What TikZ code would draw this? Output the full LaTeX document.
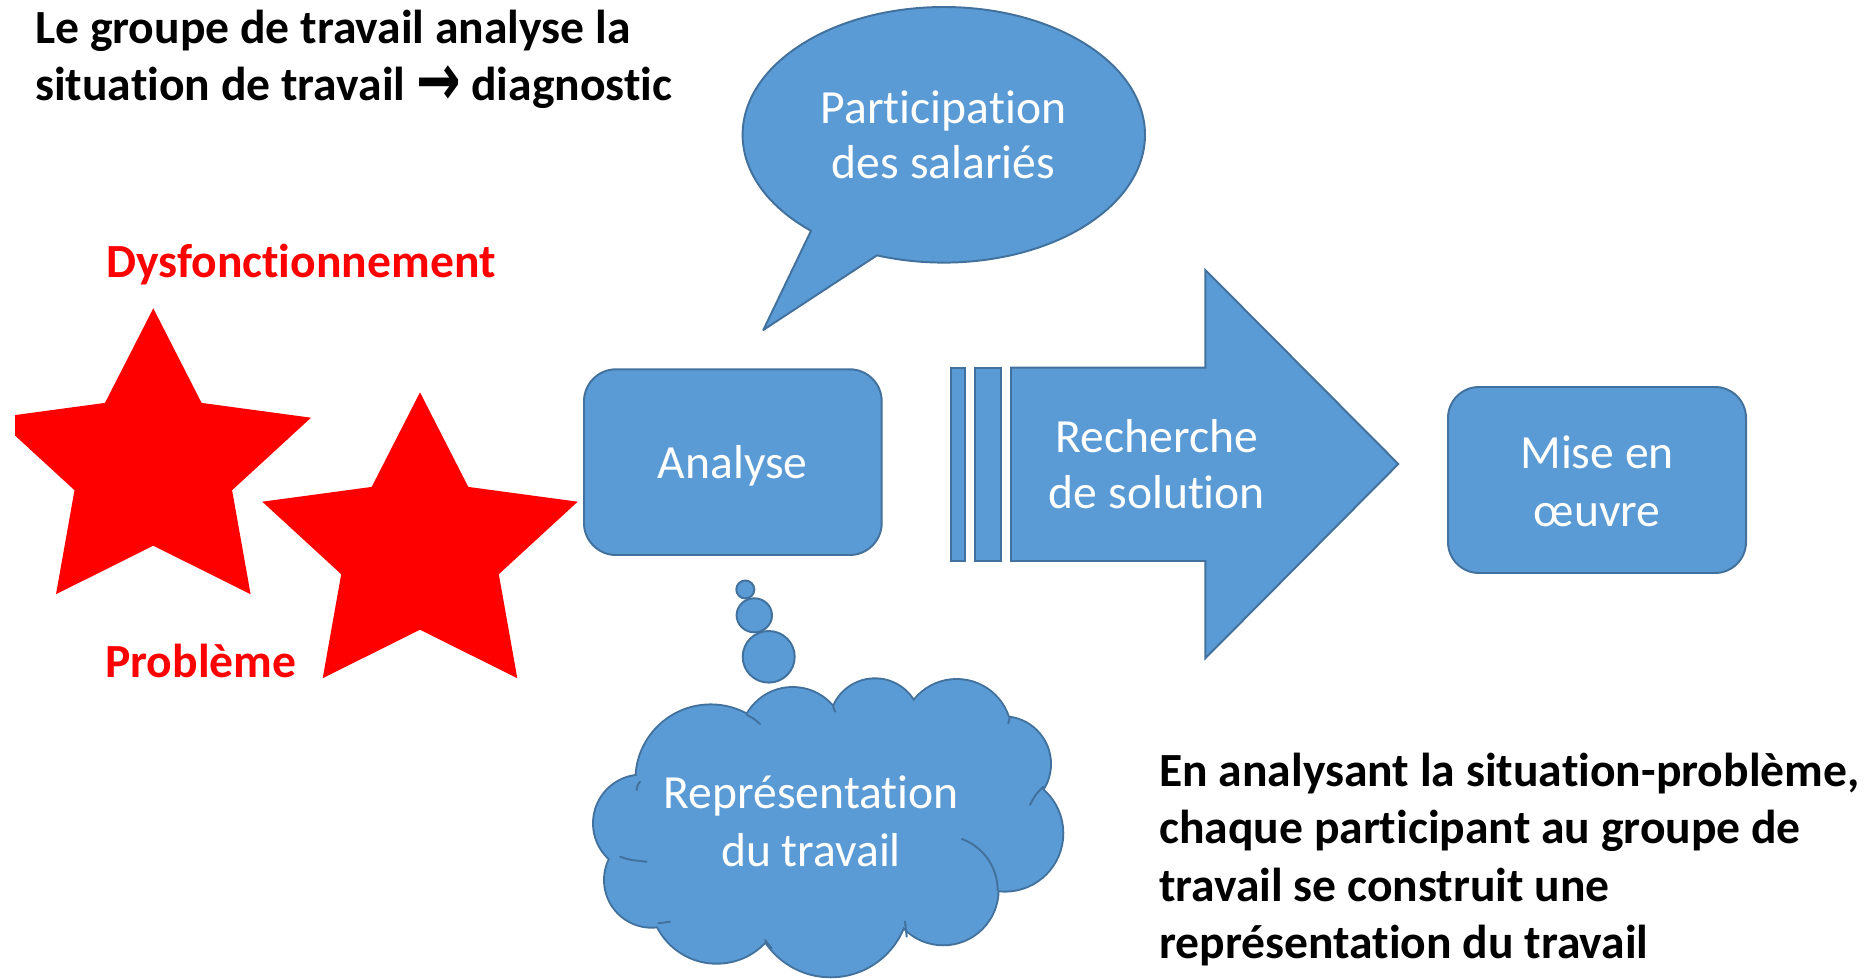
\documentclass[tikz,border=0pt]{standalone}
\usepackage{graphicx}
\usepackage{fontspec}
\setmainfont{Carlito}[Ligatures={TeX,NoCommon}]
\newfontfamily\arrowfont{DejaVu Sans}
\definecolor{fillblue}{HTML}{5B9BD5}
\definecolor{lineblue}{HTML}{41719C}
\definecolor{starred}{HTML}{FF0000}
\begin{document}
\begin{tikzpicture}[x=1pt,y=-1pt,
  blueshape/.style={fill=fillblue, draw=lineblue, line width=1.95pt, line join=round},
  crease/.style={draw=lineblue, line width=1.95pt, line cap=round},
  lbl/.style={inner sep=0pt, anchor=base, text=white, font=\fontsize{47.6}{56}\selectfont},
  blk/.style={inner sep=0pt, anchor=base west, text=black, font=\fontsize{47.6}{57}\selectfont\bfseries},
  redlbl/.style={inner sep=0pt, anchor=base west, text=starred, font=\fontsize{47.6}{57}\selectfont\bfseries},
  starshape/.style={fill=starred}]
\useasboundingbox (0,0) rectangle (1870,979);

% top-left text
\node[blk] (t1a) at (35,43.3) {Le groupe de travail analyse la};
\node[blk] (t1b) at (35,100.7) {situation de travail \raisebox{-0.1em}{\scalebox{1.12}[1.55]{\arrowfont\bfseries →}} diagnostic};

% speech bubble
\draw[blueshape] (943.8,134.8) ++(131.3:201.2 and 127.8)
  arc[start angle=131.3, end angle=469.4, x radius=201.2, y radius=127.8]
  -- (763.3,330) -- cycle;
\node[lbl] (part1) at (943.5,123.3) {Participation};
\node[lbl] (part2) at (943.5,178.3) {des salariés};

% red labels and stars
\node[redlbl] (dys) at (106,277.3) {Dysfonctionnement};
\begin{scope}
  \clip (15,0) rectangle (1870,979);
  \fill[starshape, shift={(153.3,308.3)}] (0,0) -- (48.3,94.6) -- (157.7,109.4) -- (78.8,181.9) -- (97.3,285.9)
    -- (0,237.4) -- (-97.3,285.9) -- (-78.8,181.9) -- (-157.7,109.4) -- (-48.3,94.6) -- cycle;
\end{scope}
\fill[starshape, shift={(420,392.3)}] (0,0) -- (48.3,94.6) -- (157.7,109.4) -- (78.8,181.9) -- (97.3,285.9)
    -- (0,237.4) -- (-97.3,285.9) -- (-78.8,181.9) -- (-157.7,109.4) -- (-48.3,94.6) -- cycle;
\node[redlbl] (prob) at (105,677) {Problème};

% Analyse box
\draw[blueshape, rounded corners=32pt] (584,369.3) rectangle (881.7,555);
\node[lbl] (ana) at (732.8,478.3) {Analyse};

% striped arrow
\draw[blueshape, line join=miter] (951,367.7) rectangle (964.7,561);
\draw[blueshape, line join=miter] (975,367.7) rectangle (1000.7,561);
\draw[blueshape, line join=miter] (1011,367.7) -- (1205.3,367.7) -- (1205.3,270) -- (1398.3,464)
  -- (1205.3,658.3) -- (1205.3,561) -- (1011,561) -- cycle;
\node[lbl] (rech1) at (1157,452.7) {Recherche};
\node[lbl] (rech2) at (1157,508.3) {de solution};

% Mise en oeuvre box
\draw[blueshape, rounded corners=31pt] (1448,387) rectangle (1746,573);
\node[lbl] (mise1) at (1597,468.3) {Mise en};
\node[lbl] (mise2) at (1597,526.7) {œuvre};

% thought bubbles
\draw[blueshape] (745.3,589.5) circle[radius=9];
\draw[blueshape] (754.3,615.3) ellipse[x radius=17.7, y radius=17];
\draw[blueshape] (768.7,656.8) ellipse[x radius=26, y radius=25.8];

% cloud
\foreach \cx/\cy/\r in {641.7/823.3/47.7, 710.7/779.7/74.3, 792.7/740/52, 875/724/44.7,
  956.7/734/54, 1003.3/764/46.7, 1005/833.3/57.3, 943.3/890/54.3, 830.7/898.3/78,
  716.7/896.7/66, 651.7/880/46.7}
  \draw[draw=lineblue, line width=3.9pt] (\cx,\cy) circle[radius=\r];
\foreach \cx/\cy/\r in {641.7/823.3/47.7, 710.7/779.7/74.3, 792.7/740/52, 875/724/44.7,
  956.7/734/54, 1003.3/764/46.7, 1005/833.3/57.3, 943.3/890/54.3, 830.7/898.3/78,
  716.7/896.7/66, 651.7/880/46.7, 975/795/30}
  \fill[fillblue] (\cx,\cy) circle[radius=\r];
\fill[fillblue] (825,830) ellipse[x radius=150, y radius=90];
% creases
\draw[crease] (640,781.7) .. controls (637.5,785) .. (636.7,790);
\draw[crease] (620,856.7) .. controls (630,860) .. (646.7,861.7);
\draw[crease] (746.7,715) .. controls (753,718) .. (760,724);
\draw[crease] (833.3,706.7) -- (835,711.7);
\draw[crease] (1008.3,723.3) -- (1010,716.7);
\draw[crease] (1030,805) .. controls (1035,795) .. (1043.3,786.7);
\draw[crease] ([shift={(-70:54.3)}]943.3,890) arc[start angle=-70, end angle=0, radius=54.3];
\draw[crease] (905,921.7) .. controls (906.5,929) .. (906.7,936.7);
\draw[crease] (765,940) .. controls (768,944) .. (771.7,948.3);
\draw[crease] (658.3,923.3) .. controls (664,922) .. (670,921.7);
\node[lbl] (rep1) at (811.3,808.3) {Représentation};
\node[lbl] (rep2) at (811,866.7) {du travail};

% bottom-right text
\node[blk] (br1) at (1159,786) {En analysant la situation-problème,};
\node[blk] (br2) at (1159,843.5) {chaque participant au groupe de};
\node[blk] (br3) at (1159,901) {travail se construit une};
\node[blk] (br4) at (1159,958.5) {représentation du travail};
\end{tikzpicture}
\end{document}
